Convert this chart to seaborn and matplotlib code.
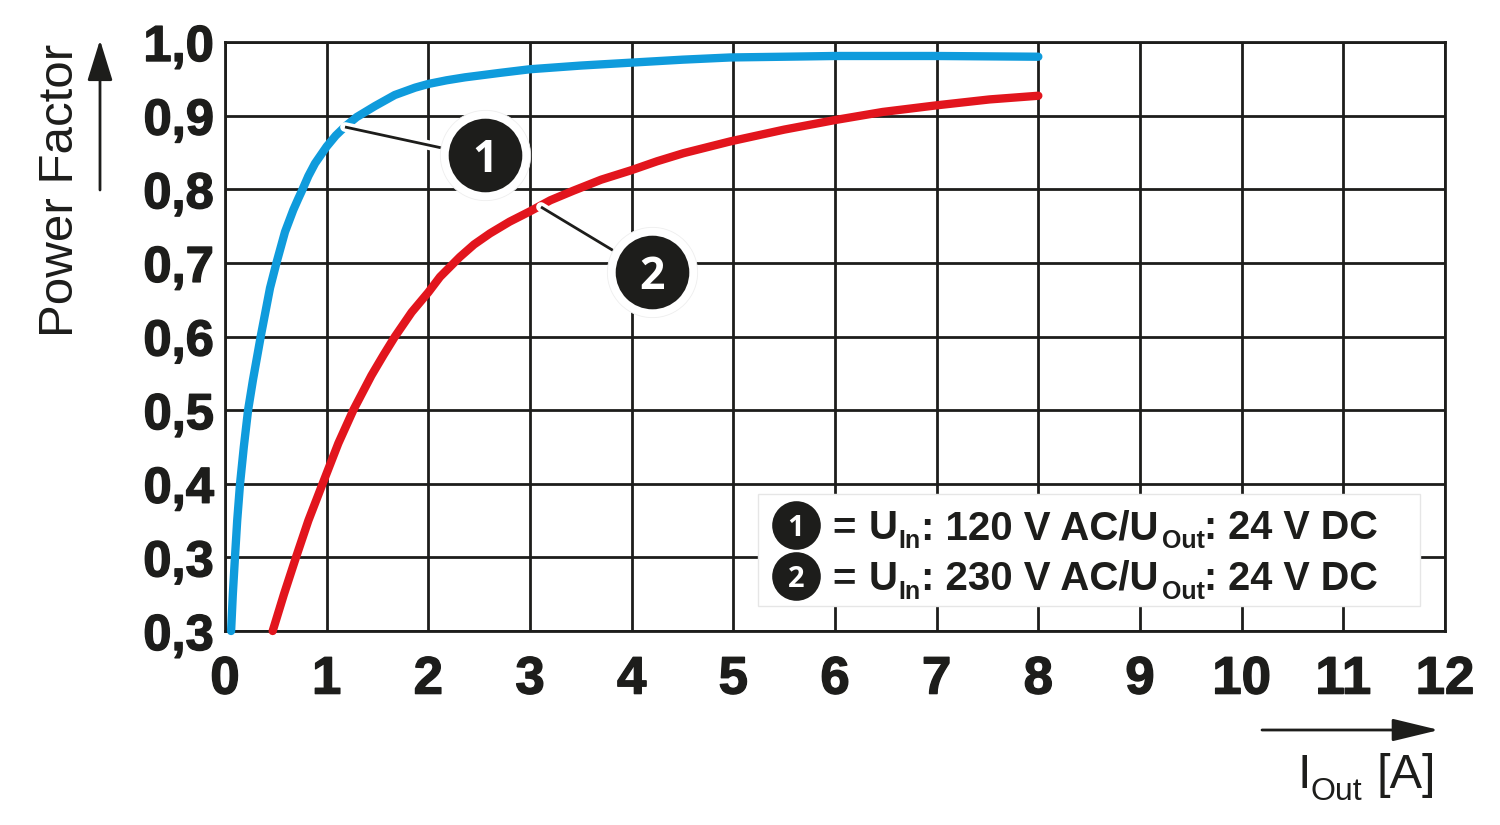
import matplotlib
matplotlib.use('Agg')
import matplotlib.pyplot as plt
import matplotlib.patheffects as pe
import seaborn as sns

# values
blue_x = [0.06, 0.077, 0.098, 0.12, 0.148, 0.185, 0.227, 0.275, 0.354, 0.443, 0.508, 0.59, 0.672, 0.72, 0.76, 0.82, 0.885, 1.0, 1.09, 1.18, 1.295, 1.475, 1.67, 1.87, 2.0, 2.18, 2.36, 2.7, 3.0, 3.5, 4.0, 4.5, 4.97, 5.5, 6.0, 7.0, 8.0]
blue_y = [0.20, 0.25, 0.30, 0.35, 0.40, 0.45, 0.50, 0.541, 0.602, 0.666, 0.701, 0.742, 0.772, 0.787, 0.799, 0.818, 0.835, 0.858, 0.873, 0.885, 0.898, 0.913, 0.928, 0.938, 0.943, 0.948, 0.952, 0.958, 0.963, 0.968, 0.972, 0.976, 0.979, 0.98, 0.981, 0.981, 0.98]
red_x = [0.469, 0.58, 0.698, 0.82, 0.96, 1.115, 1.262, 1.44, 1.56, 1.672, 1.836, 2.0, 2.115, 2.31, 2.45, 2.606, 2.8, 3.0, 3.2, 3.426, 3.7, 4.0, 4.25, 4.51, 4.97, 5.5, 6.0, 6.47, 7.0, 7.52, 8.0]
red_y = [0.20, 0.25, 0.30, 0.35, 0.40, 0.455, 0.50, 0.547, 0.575, 0.60, 0.633, 0.66, 0.681, 0.708, 0.725, 0.74, 0.756, 0.77, 0.785, 0.798, 0.813, 0.826, 0.838, 0.849, 0.865, 0.881, 0.894, 0.905, 0.914, 0.922, 0.927]
x_ticks = list(range(13))
y_ticks = [0.2, 0.3, 0.4, 0.5, 0.6, 0.7, 0.8, 0.9, 1.0]
y_labels = ['0,3', '0,3', '0,4', '0,5', '0,6', '0,7', '0,8', '0,9', '1,0']
legend_nums = ['1', '2']
legend_volts = [': 120 V AC/U', ': 230 V AC/U']

sns.set_theme(style='white')
plt.rcParams['font.family'] = ['Liberation Sans', 'DejaVu Sans']

INK = '#1d1d1b'
BLUE = '#0f9bdc'
RED = '#e2151d'


def px(x, y):
    # pixel position in the 1500x825 picture -> figure fraction
    return x / 1500, 1 - y / 825


fig = plt.figure(figsize=(15, 8.25), dpi=100)
ax = fig.add_axes([225 / 1500, 1 - 631 / 825, 1220 / 1500, 589 / 825])

sns.lineplot(x=blue_x, y=blue_y, color=BLUE, lw=6, sort=False, ax=ax,
             solid_capstyle='round', clip_on=False, zorder=3)
sns.lineplot(x=red_x, y=red_y, color=RED, lw=6, sort=False, ax=ax,
             solid_capstyle='round', clip_on=False, zorder=3)

ax.set_xlim(0, 12)
ax.set_ylim(0.2, 1.0)
ax.set_xticks(x_ticks)
ax.set_yticks(y_ticks)
ax.set_yticklabels(y_labels)
ax.grid(True, color=INK, lw=2.0)
ax.set_axisbelow(True)
ax.tick_params(axis='x', length=0, pad=17, labelsize=38, labelcolor=INK)
ax.tick_params(axis='y', length=0, pad=8, labelsize=36.5, labelcolor=INK)
heavy = [pe.withStroke(linewidth=1.0, foreground=INK)]
for lab in ax.get_xticklabels() + ax.get_yticklabels():
    lab.set_fontweight('bold')
    lab.set_path_effects(heavy)
for sp in ax.spines.values():
    sp.set_color(INK)
    sp.set_linewidth(2.0)

# axis titles and their arrows
fig.text(*px(61, 190), 'Power Factor', rotation=90, ha='center', va='center',
         fontsize=35.5, color=INK)
fig.text(*px(1298, 788), 'I', ha='left', va='baseline', fontsize=35, color=INK)
fig.text(*px(1310, 800), 'Out', ha='left', va='baseline', fontsize=23, color=INK)
fig.text(*px(1436, 788), '[A]', ha='right', va='baseline', fontsize=35, color=INK)
ax.annotate('', xy=px(100, 40), xytext=px(100, 190), xycoords='figure fraction',
            textcoords='figure fraction',
            arrowprops=dict(arrowstyle='-|>,head_length=2.1,head_width=0.65',
                            color=INK, lw=2, shrinkA=0, shrinkB=0))
ax.annotate('', xy=px(1439, 730), xytext=px(1262, 730), xycoords='figure fraction',
            textcoords='figure fraction',
            arrowprops=dict(arrowstyle='-|>,head_length=2.4,head_width=0.58',
                            color=INK, lw=2, shrinkA=0, shrinkB=0))


def line(p0, p1, color, lw, z, cap='butt'):
    xs, ys = zip(px(*p0), px(*p1))
    ax.plot(xs, ys, color=color, lw=lw, transform=fig.transFigure,
            clip_on=False, zorder=z, solid_capstyle=cap)


def badge(x, y, num, ms, halo, size):
    xf, yf = px(x, y)
    if halo:
        ax.plot(xf, yf, 'o', ms=halo, mfc='white', mec='#eeeeee', mew=0.6,
                transform=fig.transFigure, clip_on=False, zorder=6)
    ax.plot(xf, yf, 'o', ms=ms, mfc=INK, mec=INK, mew=0,
            transform=fig.transFigure, clip_on=False, zorder=7)
    fig.text(xf, yf, num, ha='center', va='center_baseline', color='white',
             fontsize=size, fontweight='bold', family='Open Sans', zorder=8)


# callouts on the curves
for p0, p1, num_pos, num in [((345, 127), (442, 148), (485, 155), '1'),
                             ((541, 207), (614, 251), (652, 272), '2')]:
    line(p0, p1, 'white', 7, 4, 'round')
    line(p0, p1, INK, 2, 5)
    badge(num_pos[0], num_pos[1], num, 53, 65, 32)

# legend box
ax.add_patch(plt.Rectangle(px(758, 606), 662 / 1500, 112 / 825, transform=fig.transFigure,
                           fc='white', ec='#e6e6e6', lw=1, zorder=2.5, clip_on=False))


def bold(x, y, s, size=29):
    fig.text(*px(x, y), s, ha='left', va='baseline', fontsize=size,
             fontweight='bold', color=INK, zorder=8)


for base, num, volts in zip([539, 590], legend_nums, legend_volts):
    badge(796, base - 14, num, 35, None, 21)
    bold(832, base, '=')
    bold(869, base, 'U')
    bold(898, base + 9, 'In', 18)
    bold(921, base, volts)
    bold(1162, base + 9, 'Out', 18)
    bold(1204, base, ': 24 V DC', 28.5)

fig.savefig('out.png', dpi=100)
